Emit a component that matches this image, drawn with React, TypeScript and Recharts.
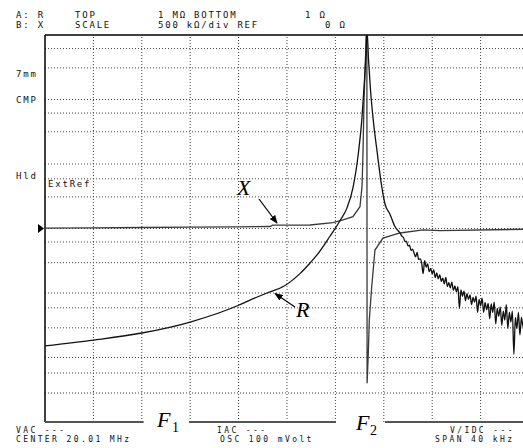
import { LineChart, Line, XAxis, YAxis, ReferenceLine } from "recharts";

// frequency offset from CENTER 20.01 MHz, kHz (span 40 kHz)
const GRID_FREQ = [-16, -12, -8, -4, 0, 4, 8, 12, 16];
// trace A: R, log10(ohm), 1 ohm .. 1 Mohm
const GRID_LOG = [0.45, 0.76, 1, 1.46, 1.77, 2, 2.47, 2.79, 3, 3.49, 3.77, 4, 4.5, 4.79, 5, 5.49, 5.79];

const R_FREQ = [
  -20, -16, -12, -8, -4, -3.06, -1.65, -0.3, 1.07, 1.98, 2.48, 3.55, 4.38, 4.96, 5.45, 5.9, 6.18, 6.37, 6.53, 6.61,
  6.74, 6.9, 7.13, 7.46, 7.83, 8.1, 8.51, 8.92, 9.34,
];
const R_LOG = [
  1.18, 1.27, 1.38, 1.55, 1.81, 1.89, 2.0, 2.1, 2.3, 2.48, 2.59, 2.88, 3.12, 3.32, 3.63, 4.17, 4.68, 5.2, 5.72, 6.08,
  5.61, 5.15, 4.68, 4.17, 3.65, 3.38, 3.22, 3.03, 2.93,
];
// noisy tail of R above resonance
const TAIL_FREQ = [
  9.5, 9.625, 9.75, 9.875, 10, 10.125, 10.25, 10.375, 10.5, 10.625, 10.75, 10.875, 11, 11.125, 11.25, 11.375,
  11.5, 11.625, 11.75, 11.875, 12, 12.125, 12.25, 12.375, 12.5, 12.625, 12.75, 12.875, 13, 13.125, 13.25, 13.375,
  13.5, 13.625, 13.75, 13.875, 14, 14.125, 14.25, 14.375, 14.5, 14.625, 14.75, 14.875, 15, 15.125, 15.25, 15.375,
  15.5, 15.625, 15.75, 15.875, 16, 16.125, 16.25, 16.375, 16.5, 16.625, 16.75, 16.875, 17, 17.125, 17.25, 17.375,
  17.5, 17.625, 17.75, 17.875, 18, 18.125, 18.25, 18.375, 18.5, 18.625, 18.75, 18.875, 19, 19.125, 19.25, 19.375,
  19.5, 19.625, 19.75, 19.875, 20,
];
const TAIL_LOG = [
  2.88, 2.86, 2.8, 2.8, 2.73, 2.74, 2.66, 2.68, 2.62, 2.56, 2.63, 2.52, 2.53, 2.47, 2.3, 2.5,
  2.4, 2.45, 2.33, 2.38, 2.3, 2.36, 2.24, 2.31, 2.22, 2.28, 2.18, 2.23, 2.14, 2.24, 2.1, 2.16,
  2.08, 2.17, 2.04, 2.11, 2.02, 2.1, 1.76, 2.05, 1.95, 2.03, 1.88, 1.99, 1.9, 1.97, 1.82, 1.93,
  1.86, 1.95, 1.7, 1.9, 1.8, 1.92, 1.7, 1.85, 1.74, 1.84, 1.6, 1.83, 1.7, 1.86, 1.52, 1.76,
  1.64, 1.78, 1.5, 1.72, 1.58, 1.82, 1.45, 1.7, 1.55, 1.72, 1.05, 1.62, 1.45, 1.7, 1.35, 1.62,
  1.48, 1.66, 1.42, 1.58, 1.55,
];

// trace B: X, kohm, 500 kohm/div, REF 0 ohm
const X_FREQ = [
  -20, -16, -12, -8, -4, -1.38, -1.2, 1.9, 3.8, 4.63, 5.45, 6.03, 6.2, 6.28, 6.36, 6.5, 6.6, 6.62, 6.72, 6.8, 7.0,
  7.27, 7.93, 9.34, 11.24, 12.64, 19.5, 20,
];
const X_KOHM = [
  6, 9, 13, 17, 22, 26, 43, 45, 75, 110, 152, 282, 540, 975, 1621, 2267, 2800, -2000, -1609, -1185, -752,
  -278, -123, -58, -19, -28, -10, -9,
];

const rData = [
  ...R_FREQ.map((f, i) => ({ f, r: R_LOG[i] })),
  ...TAIL_FREQ.map((f, i) => ({ f, r: TAIL_LOG[i] })),
];
const xData = X_FREQ.map((f, i) => ({ f, x: X_KOHM[i] }));

const MONO = { fontFamily: "DejaVu Sans Mono", fontSize: 9, letterSpacing: 1.8, fill: "#111" };
const FOOT = { fontFamily: "DejaVu Sans Mono", fontSize: 8, letterSpacing: 2.4, fill: "#111" };
const SERIF = { fontFamily: "Liberation Serif", fontStyle: "italic" as const, fontSize: 22, fill: "#000" };

function Overlay() {
  return (
    <svg width={523} height={448} style={{ position: "absolute", left: 0, top: 0, pointerEvents: "none" }}>
      <defs>
        <marker id="ah" viewBox="0 0 10 10" refX="9" refY="5" markerWidth="7" markerHeight="7" orient="auto">
          <path d="M0,1 L10,5 L0,9 z" fill="#000" />
        </marker>
      </defs>
      <text x={16} y={18} {...MONO}>A: R</text>
      <text x={16} y={27.5} {...MONO}>B: X</text>
      <text x={75} y={18} {...MONO}>TOP</text>
      <text x={75} y={27.5} {...MONO}>SCALE</text>
      <text x={158} y={18} {...MONO}>1 MΩ BOTTOM</text>
      <text x={158} y={27.5} {...MONO}>500 kΩ/div REF</text>
      <text x={305} y={18} {...MONO}>1 Ω</text>
      <text x={325} y={27.5} {...MONO}>0 Ω</text>

      <text x={16} y={77} {...MONO}>7mm</text>
      <text x={16} y={103} {...MONO}>CMP</text>
      <text x={16} y={178.5} {...MONO}>Hld</text>
      <text x={48} y={187} {...MONO}>ExtRef</text>
      <polygon points="38,224 44,228.5 38,233" fill="#000" />

      <text x={16} y={432.5} {...FOOT}>VAC ---</text>
      <text x={16} y={442} {...FOOT}>CENTER 20.01 MHz</text>
      <text x={217} y={432.5} {...FOOT}>IAC ---</text>
      <text x={220} y={442} {...FOOT}>OSC 100 mVolt</text>
      <text x={450} y={432.5} {...FOOT}>V/IDC ---</text>
      <text x={435} y={442} {...FOOT}>SPAN 40 kHz</text>

      <text x={157} y={427} {...SERIF}>F</text>
      <text x={172} y={432} fontFamily="Liberation Serif" fontSize={14}>1</text>
      <text x={356} y={430} {...SERIF}>F</text>
      <text x={370} y={435} fontFamily="Liberation Serif" fontSize={14}>2</text>

      <text x={237} y={195} {...SERIF}>X</text>
      <line x1={259} y1={199} x2={277} y2={223} stroke="#000" strokeWidth={1.2} markerEnd="url(#ah)" />
      <text x={296} y={317} {...SERIF}>R</text>
      <line x1={295} y1={307} x2={275} y2={293.5} stroke="#000" strokeWidth={1.2} markerEnd="url(#ah)" />
    </svg>
  );
}

export default function App() {
  return (
    <div style={{ position: "absolute", left: 0, top: 0, width: 523, height: 448, overflow: "hidden", background: "#fff" }}>
      <LineChart width={540} height={448} margin={{ top: 35, left: 45, right: 11, bottom: 26 }}>
        <XAxis type="number" dataKey="f" domain={[-20, 20]} allowDataOverflow hide />
        <YAxis yAxisId="r" type="number" domain={[0, 6]} allowDataOverflow hide />
        <YAxis yAxisId="x" type="number" domain={[-2500, 2500]} allowDataOverflow hide />

        {GRID_FREQ.map((f) => (
          <ReferenceLine key={"v" + f} yAxisId="r" x={f} stroke="#444" strokeDasharray="1 2" />
        ))}
        {GRID_LOG.map((v) => (
          <ReferenceLine key={"h" + v} yAxisId="r" y={v} stroke="#444" strokeDasharray="1 2" />
        ))}

        <ReferenceLine yAxisId="r" y={6} stroke="#000" strokeWidth={1.5} />
        <ReferenceLine yAxisId="r" x={-20} stroke="#000" strokeWidth={1.5} />
        <ReferenceLine yAxisId="r" segment={[{ x: -20, y: 0 }, { x: -11.85, y: 0 }]} stroke="#555" strokeWidth={2} />
        <ReferenceLine yAxisId="r" segment={[{ x: -8.1, y: 0 }, { x: 4.05, y: 0 }]} stroke="#555" strokeWidth={2} />
        <ReferenceLine yAxisId="r" segment={[{ x: 8.1, y: 0 }, { x: 20, y: 0 }]} stroke="#555" strokeWidth={2} />

        <Line yAxisId="x" data={xData} dataKey="x" type="linear" stroke="#3a3a3a" strokeWidth={1.3} dot={false} isAnimationActive={false} />
        <Line yAxisId="r" data={rData} dataKey="r" type="monotone" stroke="#111" strokeWidth={1.3} dot={false} isAnimationActive={false} />
      </LineChart>
      <Overlay />
    </div>
  );
}
